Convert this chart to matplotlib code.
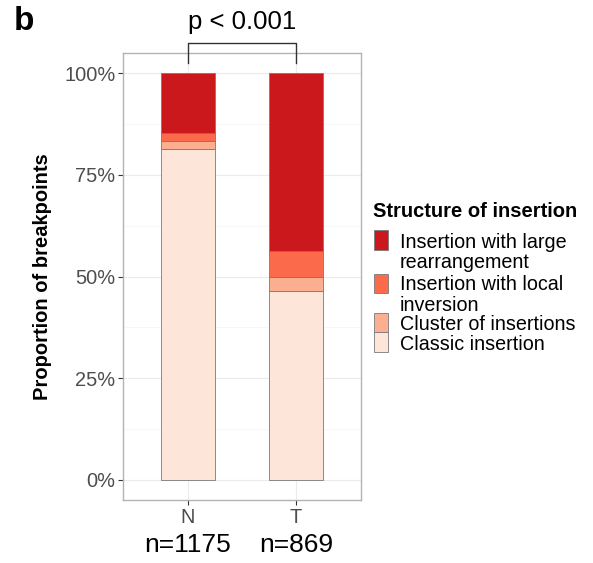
import matplotlib
matplotlib.use("Agg")
from matplotlib import pyplot as plt
from matplotlib.patches import Rectangle

plt.rcParams['font.family'] = ['Liberation Sans', 'DejaVu Sans']

groups = ["N", "T"]
n_counts = [1175, 869]
# stacked from bottom to top, in percent
categories = ["Classic insertion", "Cluster of insertions",
              "Insertion with local\ninversion", "Insertion with large\nrearrangement"]
classic = [81.3, 46.5]
cluster = [2.0, 3.3]
local_inv = [2.0, 6.5]
large_rearr = [14.7, 43.7]
colors = ["#FEE5D9", "#FCAE91", "#FB6A4A", "#CB181D"]
yticks = [0, 25, 50, 75, 100]
ytick_labels = ["0%", "25%", "50%", "75%", "100%"]
pval_text = "p < 0.001"

fig = plt.figure(figsize=(5.93, 5.63), dpi=100)
ax = fig.add_axes([123 / 593, 63 / 563, 238 / 593, 447 / 563])

x = [1, 2]
bottom = [0, 0]
for vals, col in zip([classic, cluster, local_inv, large_rearr], colors):
    ax.bar(x, vals, width=0.5, bottom=bottom, color=col, edgecolor="#7a7a7a",
           linewidth=0.6, zorder=3)
    bottom = [b + v for b, v in zip(bottom, vals)]

ax.set_xlim(0.4, 2.6)
ax.set_ylim(-5, 105)
ax.set_yticks(yticks)
ax.set_yticklabels(ytick_labels)
ax.set_yticks([12.5, 37.5, 62.5, 87.5], minor=True)
ax.set_xticks(x)
ax.set_xticklabels(groups)
ax.grid(which="major", color="#ebebeb", linewidth=0.8, zorder=0)
ax.grid(which="minor", axis="y", color="#f4f4f4", linewidth=0.5, zorder=0)
ax.tick_params(axis="both", which="major", colors="#333333", labelcolor="#4d4d4d",
               labelsize=14.4, length=3.5, width=0.8, pad=2)
ax.tick_params(which="minor", length=0)
for s in ax.spines.values():
    s.set_color("#b3b3b3")
    s.set_linewidth(1.0)
ax.set_ylabel("Proportion of breakpoints", fontsize=14.5, fontweight="bold", labelpad=9)

# n counts under the group labels
for xi, n in zip(x, n_counts):
    ax.text(xi, -0.1, "n=" + str(n), transform=ax.get_xaxis_transform(),
            ha="center", va="center", fontsize=19)

# significance bracket
ax.plot([1, 1, 2, 2], [102.6, 107.5, 107.5, 102.6], color="#333333", lw=1.0,
        clip_on=False, zorder=4)
ax.text(1.5, 112.6, pval_text, ha="center", va="center", fontsize=18.5)

fig.text(14 / 593, 1 - 22 / 563, "b", fontsize=24, fontweight="bold", ha="left", va="center")

# legend drawn by hand (keys and label lines, top to bottom as in the picture)
fig.text(373 / 593, 1 - 211 / 563, "Structure of insertion", fontsize=14.5,
         fontweight="bold", ha="left", va="center")
key_tops = [332, 313, 274, 230]
key_heights = [20, 19, 19, 20]
text_tops = [344, 325, 285, 242]
for lab, col, top, h, ty in zip(categories, colors, key_tops, key_heights, text_tops):
    fig.patches.append(Rectangle((374 / 593, 1 - (top + h) / 563), 14 / 593, h / 563,
                                 transform=fig.transFigure, facecolor=col,
                                 edgecolor="#7a7a7a", linewidth=0.6))
    for i, line in enumerate(lab.split("\n")):
        fig.text(400 / 593, 1 - (ty + i * 20.5) / 563, line, fontsize=14.2,
                 ha="left", va="center")

fig.savefig("out.png", dpi=100)
